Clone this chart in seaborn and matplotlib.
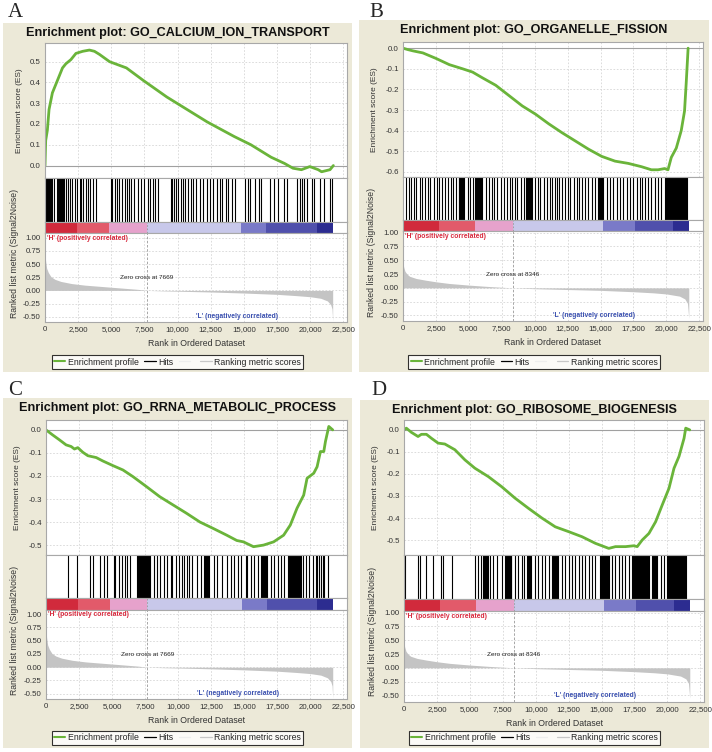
import numpy as np
import pandas as pd
import matplotlib
matplotlib.use("Agg")
import matplotlib.pyplot as plt
import seaborn as sns
from matplotlib.patches import Rectangle
from matplotlib.lines import Line2D

sns.set_style("white")
plt.rcParams['font.family'] = ['Liberation Sans', 'DejaVu Sans']
plt.rcParams['axes.unicode_minus'] = False

# ---------------- data ----------------
titles = ["GO_CALCIUM_ION_TRANSPORT", "GO_ORGANELLE_FISSION",
          "GO_RRNA_METABOLIC_PROCESS", "GO_RIBOSOME_BIOGENESIS"]
letters = ["A", "B", "C", "D"]
zero_cross = [7669, 8346, 7669, 8346]

es_rank_A = [0, 51, 178, 305, 558, 812, 1066, 1320, 1574, 1954, 2335, 2843, 3350, 3731, 4112, 4873,
             6142, 7411, 9188, 10711, 12234, 14264, 15533, 17056, 18071, 18706, 19340, 19975, 20609,
             20863, 21497, 21751]
es_val_A = [0.0, 0.12, 0.17, 0.27, 0.35, 0.39, 0.43, 0.47, 0.49, 0.51, 0.54, 0.55, 0.556, 0.55, 0.535,
            0.50, 0.47, 0.41, 0.33, 0.27, 0.21, 0.14, 0.10, 0.04, 0.01, -0.013, -0.02, -0.005, -0.02,
            -0.03, -0.02, 0.0]

es_rank_B = [0, 377, 755, 1509, 2515, 3521, 4527, 5282, 6036, 7042, 8048, 9054, 10060, 11066, 12072,
             13078, 14085, 15091, 16097, 17103, 18109, 18863, 19366, 19869, 20121, 20372, 20750, 21127,
             21378, 21504, 21650]
es_val_B = [0.0, -0.007, -0.013, -0.023, -0.05, -0.08, -0.10, -0.116, -0.144, -0.18, -0.23, -0.28, -0.32,
            -0.367, -0.41, -0.45, -0.49, -0.525, -0.548, -0.559, -0.575, -0.59, -0.59, -0.584, -0.59,
            -0.53, -0.485, -0.40, -0.305, -0.17, 0.0]

es_rank_C = [0, 507, 1013, 1520, 1900, 2153, 2406, 2786, 3166, 3799, 4306, 5066, 5826, 6586, 7599, 8612,
             9625, 10638, 11651, 12665, 13678, 14438, 14944, 15704, 16464, 17224, 17984, 18490, 18997,
             19503, 19757, 20263, 20517, 20770, 21023, 21150, 21403, 21700]
es_val_C = [0.0, -0.022, -0.043, -0.065, -0.072, -0.083, -0.077, -0.097, -0.112, -0.12, -0.135, -0.155,
            -0.174, -0.203, -0.246, -0.29, -0.326, -0.362, -0.40, -0.428, -0.457, -0.48, -0.486, -0.507,
            -0.50, -0.486, -0.457, -0.413, -0.34, -0.283, -0.21, -0.188, -0.16, -0.094, -0.094, -0.05,
            0.015, 0.0]

es_rank_D = [0, 178, 559, 1067, 1321, 1702, 2083, 2591, 3100, 3862, 4624, 5386, 6402, 7419, 8435, 9451,
             10467, 11484, 12500, 13516, 14533, 15549, 16057, 16819, 17454, 17708, 18089, 18598, 19106,
             19614, 20122, 20503, 20884, 21265, 21392, 21700]
es_val_D = [0.0, 0.008, -0.011, -0.03, -0.02, -0.02, -0.038, -0.06, -0.064, -0.09, -0.136, -0.174, -0.212,
            -0.258, -0.31, -0.356, -0.40, -0.44, -0.462, -0.485, -0.515, -0.538, -0.53, -0.53, -0.526,
            -0.53, -0.50, -0.47, -0.417, -0.34, -0.265, -0.174, -0.12, -0.038, 0.008, 0.0]

hits_A = [20, 70, 120, 170, 220, 270, 320, 370, 420, 470, 520, 700, 881,
          1000, 1060, 1120, 1180, 1240, 1300, 1360, 1420,
          1599, 1726, 1904, 2056, 2233, 2411, 2614, 2741, 2868, 3071, 3249, 3426, 3629, 3832,
          4949, 5076, 5254, 5457, 5584, 5838, 6015, 6218, 6345, 6523, 6726, 6980, 7234, 7437, 7741,
          7944, 8122, 8299, 8503, 9467, 9569, 9721, 9898, 10025, 10228, 10406, 10584,
          10787, 10990, 11168, 11421, 11675, 11929, 12183, 12437, 12690, 12944, 13198, 13376, 13629,
          13832, 14086, 14340, 15105, 15280, 15483, 15861, 16111, 16292, 16994, 17243, 17545, 18001,
          18255, 19011, 19210, 19390, 19562, 19766, 20144, 20318, 20770, 21020, 21526, 21654]
hits_B = [252, 453, 629, 805, 1006, 1258, 1434, 1635, 1886, 2062, 2389, 2565, 2767, 2968, 3219, 3395,
          3647, 3773, 4024, 4225, 4290, 4360, 4430, 4500, 4570, 4640, 4904, 5080, 5282,
          5483, 5550, 5620, 5690, 5760, 5830, 5900, 6036, 6288, 6539, 6740, 6916, 7168, 7419, 7671,
          7922, 8099, 8300, 8501, 8677, 8929, 9180, 9306, 9380, 9450, 9520, 9590, 9660, 9730, 9800,
          10060, 10262, 10437, 10689, 10940, 11142, 11318, 11569, 11695, 11821, 12072, 12274, 12525,
          12701, 12953, 13204, 13380, 13581, 13833, 14085, 14336, 14588, 14839, 14910, 14980, 15050,
          15120, 15200, 15468, 15719, 15971, 16222, 16474, 16725, 16977, 17229, 17480, 17732, 17983,
          18159, 18360, 18612, 18863, 19115, 19366, 19618, 19869, 19940, 20010, 20080, 20150, 20220,
          20290, 20360, 20430, 20500, 20570, 20624, 20750, 20820, 20890, 20960, 21030, 21100, 21170,
          21240, 21310, 21380, 21450, 21520, 21580]
hits_C = [1697, 2381, 3293, 3546, 4103, 4407, 4610, 5117, 5243, 5496, 5750, 6003, 6130, 6383,
          6890, 6960, 7030, 7100, 7170, 7240, 7310, 7380, 7450, 7520, 7590, 7660, 7730, 7800, 7870,
          8156, 8409, 8663, 8916, 9169, 9423, 9549, 9803, 10056, 10309, 10436, 10689, 10816, 11069,
          11449, 11702, 11956, 12030, 12100, 12170, 12240, 12310, 12715, 12969, 13349, 13729, 13982,
          14235, 14539, 14742, 15122, 15248, 15502, 15755, 16008, 16261, 16330, 16400, 16470, 16540,
          16610, 16680, 16750, 17021, 17275, 17528, 17781, 18034, 18288, 18360, 18430, 18500, 18570,
          18640, 18710, 18780, 18850, 18920, 18990, 19060, 19130, 19200, 19270, 19428, 19681, 19934,
          20188, 20441, 20540, 20694, 20821, 20950, 21074, 21327]
hits_D = [102, 1067, 1245, 1702, 2210, 2795, 2973, 3608, 5386, 5589, 5843, 6021, 6090, 6160, 6230,
          6300, 6370, 6529, 6784, 7038, 7419, 7673, 7740, 7810, 7880, 7950, 8020, 8090, 8160, 8435,
          8689, 8943, 9146, 9324, 9390, 9460, 9530, 9600, 9670, 9959, 10213, 10467, 10722, 10976,
          11230, 11300, 11370, 11440, 11510, 11580, 11650, 11720, 11992, 12246, 12500, 12754, 13008,
          13262, 13516, 13770, 14024, 14279, 14533, 14914, 14990, 15060, 15130, 15200, 15270, 15340,
          15410, 15480, 15549, 15803, 16057, 16311, 16565, 16819, 17073, 17327, 17400, 17470, 17540,
          17610, 17680, 17750, 17820, 17890, 17960, 18030, 18100, 18170, 18240, 18310, 18380, 18450,
          18520, 18598, 18852, 18920, 18990, 19060, 19130, 19200, 19487, 19741, 19995, 20065, 20135,
          20205, 20275, 20345, 20415, 20485, 20555, 20625, 20695, 20765, 20835, 20905, 20975, 21045,
          21115, 21185, 21255, 21325, 21392]

metric_rank_1 = [0, 50, 125, 250, 450, 750, 1200, 2000, 3000, 4000, 5000, 6000, 7000, 7669, 9000, 10000,
                 12500, 15000, 17500, 19000, 20000, 20800, 21300, 21550, 21650, 21700]
metric_val_1 = [0.68, 0.55, 0.42, 0.34, 0.26, 0.21, 0.17, 0.13, 0.10, 0.08, 0.06, 0.04, 0.02, 0.0, -0.01,
                -0.015, -0.03, -0.05, -0.075, -0.10, -0.12, -0.15, -0.20, -0.27, -0.35, -0.58]
metric_rank_2 = [0, 50, 150, 300, 500, 1000, 1700, 2500, 3500, 5000, 6500, 8346, 10000, 12500, 15000,
                 17500, 19000, 20000, 21000, 21400, 21600, 21700]
metric_val_2 = [0.46, 0.38, 0.30, 0.25, 0.21, 0.17, 0.14, 0.11, 0.08, 0.05, 0.025, 0.0, -0.015, -0.03,
                -0.045, -0.07, -0.09, -0.11, -0.15, -0.20, -0.28, -0.55]

cbar_bounds_1 = [0, 2400, 4850, 7669, 14800, 16700, 20500, 21700]
cbar_bounds_2 = [0, 2700, 5500, 8346, 15200, 17600, 20500, 21700]
cbar_colors = ['#D12A3C', '#E25A6A', '#E6A2CC', '#C8C8EA', '#7A7AC8', '#5050AC', '#2C2C90']

x_ticks = [0, 2500, 5000, 7500, 10000, 12500, 15000, 17500, 20000, 22500]
x_ticklabels = ["0", "2,500", "5,000", "7,500", "10,000", "12,500", "15,000", "17,500", "20,000", "22,500"]
rank_yticks = [1.0, 0.75, 0.5, 0.25, 0.0, -0.25, -0.5]
rank_yticklabels = ["1.00", "0.75", "0.50", "0.25", "0.00", "-0.25", "-0.50"]
es_yticks = [[0.0, 0.1, 0.2, 0.3, 0.4, 0.5],
             [0.0, -0.1, -0.2, -0.3, -0.4, -0.5, -0.6],
             [0.0, -0.1, -0.2, -0.3, -0.4, -0.5],
             [0.0, -0.1, -0.2, -0.3, -0.4, -0.5]]

# ---------------- layout (pixels) ----------------
W, H = 712, 752
BEIGE = '#ECE9D8'
GREEN = '#6AB43A'
GRID = '#D6D6D6'
SPINE = '#A8A8A8'

layout = [
    dict(box=(3, 23, 349, 349), L=45, R=347, es=(43, 178), hits=222, cbar=233, rk=322, ylim=(-0.06, 0.59), rylim=(-0.6, 1.09)),
    dict(box=(359, 20, 350, 352), L=403, R=703, es=(42, 177), hits=220, cbar=231, rk=321, ylim=(-0.625, 0.03), rylim=(-0.6, 1.03)),
    dict(box=(3, 398, 349, 350), L=46, R=347, es=(420, 555), hits=598, cbar=610, rk=699, ylim=(-0.543, 0.043), rylim=(-0.6, 1.08)),
    dict(box=(360, 400, 349, 348), L=404, R=704, es=(420, 555), hits=599, cbar=611, rk=702, ylim=(-0.568, 0.045), rylim=(-0.62, 1.03)),
]
letter_pos = [(8, 17), (369, 17), (8, 395), (371, 395)]

es_ranks = [es_rank_A, es_rank_B, es_rank_C, es_rank_D]
es_vals = [es_val_A, es_val_B, es_val_C, es_val_D]
hits_all = [hits_A, hits_B, hits_C, hits_D]
metric_ranks = [metric_rank_1, metric_rank_2, metric_rank_1, metric_rank_2]
metric_vals = [metric_val_1, metric_val_2, metric_val_1, metric_val_2]
cbar_bounds = [cbar_bounds_1, cbar_bounds_2, cbar_bounds_1, cbar_bounds_2]

fig = plt.figure(figsize=(W / 100, H / 100), dpi=100)
fig.patch.set_facecolor('white')


def rect(x, y, w, h):
    return [x / W, 1 - (y + h) / H, w / W, h / H]


def style_axes(ax):
    for s in ax.spines.values():
        s.set_color(SPINE)
        s.set_linewidth(0.8)
    ax.tick_params(length=0, labelsize=5.7, colors='#333333', pad=3)


XMAX = 22780

for i in range(4):
    g = layout[i]
    bx, by, bw, bh = g['box']
    fig.patches.append(Rectangle((bx / W, 1 - (by + bh) / H), bw / W, bh / H,
                                 transform=fig.transFigure, facecolor=BEIGE, edgecolor='none', zorder=-10))
    lx, ly = letter_pos[i]
    fig.text(lx / W, 1 - ly / H, letters[i], family='Liberation Serif',
             fontsize=15, ha='left', va='baseline')
    fig.text((bx + bw / 2) / W, 1 - (by + 10) / H, "Enrichment plot: " + titles[i],
             fontsize=9.1, fontweight='bold', ha='center', va='center', color='#111111')

    L, R = g['L'], g['R']
    w = R - L
    # ES axes
    ax = fig.add_axes(rect(L, g['es'][0], w, g['es'][1] - g['es'][0]))
    ax.set_facecolor('white')
    df = pd.DataFrame({'rank': es_ranks[i], 'es': es_vals[i]})
    sns.lineplot(data=df, x='rank', y='es', color=GREEN, lw=2.0, ax=ax, sort=False)
    ax.axhline(0, color='#A0A0A0', lw=0.8, zorder=1)
    ax.set_xlim(0, XMAX)
    ax.set_ylim(*g['ylim'])
    ax.set_xticks(x_ticks)
    ax.set_xticklabels([])
    ax.set_yticks(es_yticks[i])
    ax.set_yticklabels([f"{v:.1f}" for v in es_yticks[i]])
    ax.grid(True, color=GRID, linestyle=(0, (2, 2)), lw=0.6)
    ax.set_axisbelow(True)
    ax.set_xlabel("")
    ax.set_ylabel("Enrichment score (ES)", fontsize=6, color='#333333', labelpad=5)
    style_axes(ax)

    # hits axes
    axh = fig.add_axes(rect(L, g['es'][1], w, g['hits'] - g['es'][1]))
    axh.set_facecolor('white')
    axh.vlines(hits_all[i], 0, 1, color='black', lw=0.8)
    axh.set_xlim(0, XMAX)
    axh.set_ylim(0, 1)
    axh.set_xticks([])
    axh.set_yticks([])
    style_axes(axh)

    # color bar axes
    axc = fig.add_axes(rect(L, g['hits'], w, g['cbar'] - g['hits']))
    axc.set_facecolor('white')
    b = cbar_bounds[i]
    for k in range(len(cbar_colors)):
        axc.axvspan(b[k], b[k + 1], color=cbar_colors[k], lw=0)
    axc.axvline(zero_cross[i], color='#999999', lw=0.6, ls=(0, (2, 2)))
    axc.set_xlim(0, XMAX)
    axc.set_xticks([])
    axc.set_yticks([])
    style_axes(axc)

    # ranked list axes
    rk_h = g['rk'] - g['cbar']
    axr = fig.add_axes(rect(L, g['cbar'], w, rk_h))
    axr.set_facecolor('white')
    axr.fill_between(metric_ranks[i], metric_vals[i], 0, color='#C4C4C4', lw=0)
    axr.axvline(zero_cross[i], color='#999999', lw=0.6, ls=(0, (3, 2)))
    axr.set_xlim(0, XMAX)
    axr.set_ylim(*g['rylim'])
    axr.set_xticks(x_ticks)
    axr.set_xticklabels(x_ticklabels)
    axr.set_yticks(rank_yticks)
    axr.set_yticklabels(rank_yticklabels)
    axr.grid(True, color=GRID, linestyle=(0, (2, 2)), lw=0.6)
    axr.set_axisbelow(True)
    axr.set_xlabel("Rank in Ordered Dataset", fontsize=6.3, color='#333333', labelpad=4)
    style_axes(axr)
    axr.text(120, 1 - 5.0 / rk_h, "'H' (positively correlated)", color='#D8283C', fontsize=4.9,
             fontweight='bold', ha='left', va='center',
             transform=axr.get_xaxis_transform())
    axr.text(14500, -0.5, "'L' (negatively correlated)", color='#3A50B0', fontsize=4.9,
             fontweight='bold', ha='center', va='center')
    axr.text(zero_cross[i], 0.24, f"Zero cross at {zero_cross[i]}", color='#222222', fontsize=4.6,
             ha='center', va='center')
    fig.text((bx + 12) / W, 1 - ((g['es'][1] + g['rk']) / 2 + 3) / H, "Ranked list metric (Signal2Noise)",
             rotation=90, fontsize=6.2, color='#333333', ha='center', va='center')

    handles = [Line2D([], [], color=GREEN, lw=1.5), Line2D([], [], color='black', lw=0.9),
               Line2D([], [], color='#EEEEEE', lw=0.9), Line2D([], [], color='#C8C8C8', lw=0.9)]
    labels = ["Enrichment profile", "Hits", " ", "Ranking metric scores"]
    leg = fig.legend(handles, labels, loc='center', ncol=4,
                     bbox_to_anchor=((bx + bw / 2) / W, 1 - (by + bh - 10) / H),
                     fontsize=6.3, frameon=True, fancybox=False, handlelength=1.3,
                     handletextpad=0.3, columnspacing=0.6, borderpad=0.25)
    leg.get_frame().set_edgecolor('black')
    leg.get_frame().set_linewidth(0.8)
    leg.get_frame().set_facecolor('white')

fig.savefig("out.png", dpi=100)
